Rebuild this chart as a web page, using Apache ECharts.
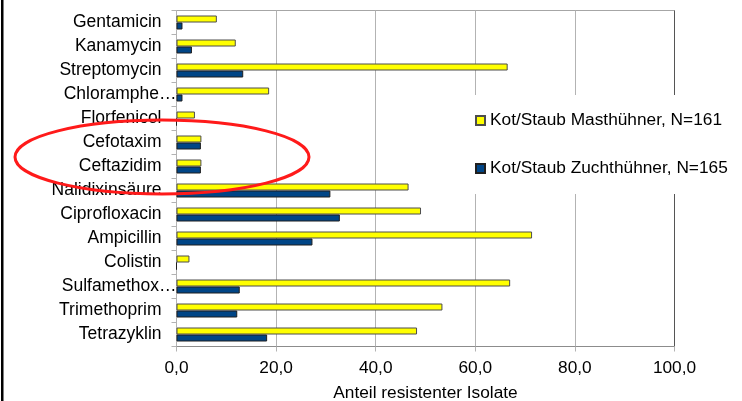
<!DOCTYPE html>
<html>
<head>
<meta charset="utf-8">
<script src="https://cdn.jsdelivr.net/npm/echarts@6/dist/echarts.min.js"></script>
<style>
html,body{margin:0;padding:0;background:#fff;}
#chart{width:742px;height:401px;}
</style>
</head>
<body>
<div id="chart"></div>
<script>
var categories = ['Gentamicin','Kanamycin','Streptomycin','Chloramphe…','Florfenicol','Cefotaxim','Ceftazidim','Nalidixinsäure','Ciprofloxacin','Ampicillin','Colistin','Sulfamethox…','Trimethoprim','Tetrazyklin'];
var truncatedLabels = ['Chloramphe…','Sulfamethox…'];
var seriesNames = ['Kot/Staub Masthühner, N=161','Kot/Staub Zuchthühner, N=165'];
var masthuehner = [8.1, 11.9, 66.5, 18.6, 3.7, 5.0, 5.0, 46.6, 49.1, 71.4, 2.6, 67.0, 53.4, 48.3];
var zuchthuehner = [1.2, 3.1, 13.4, 1.2, 0, 4.9, 4.9, 30.9, 32.8, 27.3, 0, 12.7, 12.2, 18.2];
var xTicks = [0, 20, 40, 60, 80, 100];
var xTitle = 'Anteil resistenter Isolate';

var FONT = '"Liberation Sans", Arial, sans-serif';
var chart = echarts.init(document.getElementById('chart'), null, {renderer:'canvas'});

var catData = categories.map(function(c){
  if (truncatedLabels.indexOf(c) >= 0) {
    return {value: c, textStyle: {padding: [0, -15, 0, 0]}};
  }
  return c;
});

chart.setOption({
  animation: false,
  backgroundColor: '#ffffff',
  grid: {left: 176.5, right: 67.5, top: 10.5, bottom: 54.5, outerBoundsMode: 'none', containLabel: false,
         show: true, borderColor: '#a6a6a6', borderWidth: 1, backgroundColor: 'transparent'},
  xAxis: {
    type: 'value',
    min: xTicks[0], max: xTicks[xTicks.length-1], interval: 20,
    name: xTitle, nameLocation: 'middle', nameGap: 38,
    nameTextStyle: {fontFamily: FONT, fontSize: 17.3, color: '#000'},
    axisLine: {show: true, lineStyle: {color: '#8c8c8c', width: 1}},
    axisTick: {show: true, length: 5, lineStyle: {color: '#b3b3b3'}},
    axisLabel: {fontFamily: FONT, fontSize: 17.3, color: '#000', margin: 13,
      formatter: function(v){ return v.toFixed(1).replace('.', ','); }},
    splitLine: {show: true, lineStyle: {color: ['#b3b3b3','#b3b3b3','#b3b3b3','#b3b3b3','#b3b3b3','#555555'], width: 1}}
  },
  yAxis: {
    type: 'category',
    inverse: true,
    data: catData,
    axisLine: {show: true, lineStyle: {color: '#b3b3b3', width: 1}},
    axisTick: {show: true, length: 5, interval: 0, lineStyle: {color: '#b3b3b3'}},
    axisLabel: {fontFamily: FONT, fontSize: 17.5, color: '#000', margin: 15, interval: 0, hideOverlap: false},
    splitLine: {show: false}
  },
  legend: {
    orient: 'vertical',
    left: 470, top: 95,
    padding: [17, 5, 17, 5],
    backgroundColor: '#ffffff',
    itemWidth: 9, itemHeight: 9, itemGap: 31,
    icon: 'rect',
    textStyle: {fontFamily: FONT, fontSize: 17.3, color: '#000'},
    data: seriesNames
  },
  series: [
    {name: seriesNames[0], type: 'bar', data: masthuehner, barWidth: 7, barGap: '0%',
     itemStyle: {color: '#ffff00', borderColor: '#4d4d4d', borderWidth: 1}},
    {name: seriesNames[1], type: 'bar', data: zuchthuehner, barWidth: 7, barGap: '0%',
     itemStyle: {color: '#004586', borderColor: '#1f1f1f', borderWidth: 1}}
  ],
  graphic: [
    {type: 'rect', shape: {x: 1, y: 0, width: 2.5, height: 401}, style: {fill: '#000'}, z: 100},
    {type: 'ellipse', shape: {cx: 162, cy: 157, rx: 147, ry: 37}, style: {fill: 'none', stroke: '#ff1a1a', lineWidth: 3}, z: 100}
  ]
});
</script>
</body>
</html>
